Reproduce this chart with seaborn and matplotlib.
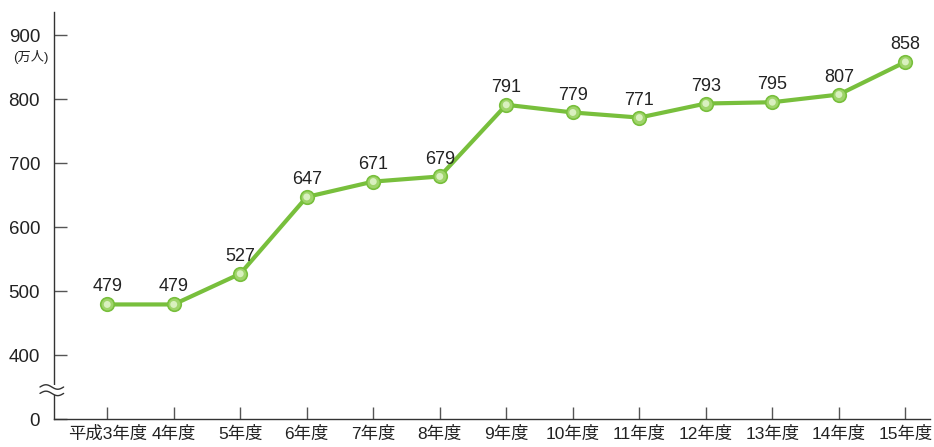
import numpy as np
import pandas as pd
import seaborn as sns
import matplotlib.pyplot as plt

# Data (unit: 10,000 people)
years = ["平成3年度", "4年度", "5年度", "6年度", "7年度", "8年度", "9年度",
         "10年度", "11年度", "12年度", "13年度", "14年度", "15年度"]
values = [479, 479, 527, 647, 671, 679, 791, 779, 771, 793, 795, 807, 858]
yticks = [300, 400, 500, 600, 700, 800, 900]
ytick_labels = ["0", "400", "500", "600", "700", "800", "900"]

sns.set_theme(style="white")
plt.rcParams['font.family'] = ['Liberation Sans', 'Noto Sans CJK JP', 'DejaVu Sans']

df = pd.DataFrame({"year": years, "value": values, "pos": range(len(years))})

green = "#78bf3c"
fig = plt.figure(figsize=(9.34, 4.47), dpi=100)
ax = fig.add_axes([54 / 934, 28 / 447, 876 / 934, 407 / 447])

sns.lineplot(data=df, x="pos", y="value", ax=ax, color=green, linewidth=3, zorder=2)
ax.scatter(df["pos"], df["value"], s=95, color="#9fd46a", edgecolor=green,
           linewidth=1.2, zorder=3)
ax.scatter(df["pos"], df["value"], s=25, color="#d9f0bf", edgecolor="none", zorder=4)

for p, v in zip(df["pos"], df["value"]):
    ax.text(p, v + 14, str(v), ha="center", va="bottom", fontsize=13, color="#222222")

ax.set_xlim(-0.8, 12.37)
ax.set_ylim(300, 936)
ax.set_xticks(df["pos"])
ax.set_xticklabels(years, fontsize=12.5)
ax.set_yticks(yticks)
ax.set_yticklabels(ytick_labels, fontsize=13.5)
ax.set_xlabel("")
ax.set_ylabel("")

for side in ["top", "right"]:
    ax.spines[side].set_visible(False)
for side in ["left", "bottom"]:
    ax.spines[side].set_color("#333333")
    ax.spines[side].set_linewidth(1.0)
ax.tick_params(axis="both", direction="in", length=9, width=1.0, color="#555555",
               labelcolor="#222222")
ax.tick_params(axis="y", pad=10, left=True)
ax.tick_params(axis="x", pad=5, bottom=True)

# unit label
fig.text(31 / 934, 1 - 57 / 447, "(万人)", fontsize=9.5, color="#222222",
         ha="center", va="center")

# axis break marks (two wavy lines across the y axis)
trans = ax.get_yaxis_transform()
ax.fill_between([-0.004, 0.004], 337, 353, transform=trans, color="white",
                clip_on=False, zorder=4, linewidth=0)
for off in [-5, 5]:
    xs = np.linspace(-0.016, 0.011, 30)
    ys = 345 + off + 3.5 * np.sin((xs + 0.016) / 0.027 * 2 * np.pi)
    ax.plot(xs, ys, transform=trans, color="#333333", lw=1.0, clip_on=False, zorder=5)

fig.savefig("out.png", dpi=100)
